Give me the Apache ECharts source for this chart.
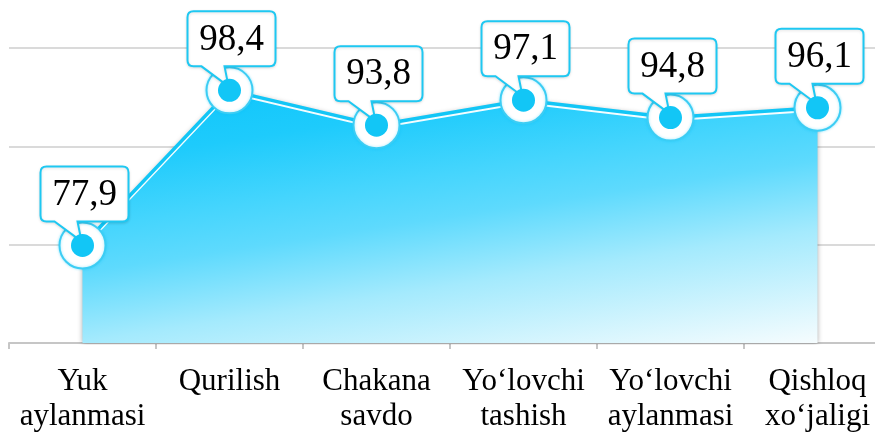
<!DOCTYPE html>
<html>
<head>
<meta charset="utf-8">
<script src="https://cdn.jsdelivr.net/npm/echarts@6/dist/echarts.min.js"></script>
<style>
  html, body { margin: 0; padding: 0; background: #fff; overflow: hidden; }
  #main { width: 900px; height: 434px; }
</style>
</head>
<body>
<div id="main"></div>
<script>
// categories and values
const categories = ['Yuk\naylanmasi', 'Qurilish', 'Chakana\nsavdo', 'Yo‘lovchi\ntashish', 'Yo‘lovchi\naylanmasi', 'Qishloq\nxo‘jaligi']
const values = [77.9, 98.4, 93.8, 97.1, 94.8, 96.1]
const yMin = 65
const yMax = 104
const yStep = 13

const CYAN = '#12c6f6'
const SERIF = '"Liberation Serif", "Times New Roman", serif'

const pointData = values.map((v, i) => [i, v])

// callout box with a tail pointing at the point
const renderCallout = (params, api) => {
    const p = api.coord([api.value(0), api.value(1)])
    const px = p[0], py = p[1]
    const w = 88, h = 55, r = 6
    const cx = px + 2
    const y1 = py - 24, y0 = y1 - h
    const x0 = cx - w / 2, x1 = cx + w / 2
    const d = 'M' + (x0 + r) + ',' + y0 +
        ' L' + (x1 - r) + ',' + y0 +
        ' Q' + x1 + ',' + y0 + ' ' + x1 + ',' + (y0 + r) +
        ' L' + x1 + ',' + (y1 - r) +
        ' Q' + x1 + ',' + y1 + ' ' + (x1 - r) + ',' + y1 +
        ' L' + (px - 5) + ',' + y1 +
        ' L' + (px - 1) + ',' + (py - 4) +
        ' L' + (px - 28) + ',' + y1 +
        ' L' + (x0 + r) + ',' + y1 +
        ' Q' + x0 + ',' + y1 + ' ' + x0 + ',' + (y1 - r) +
        ' L' + x0 + ',' + (y0 + r) +
        ' Q' + x0 + ',' + y0 + ' ' + (x0 + r) + ',' + y0 + ' Z'
    const label = String(api.value(1)).replace('.', ',')
    return {
        type: 'group',
        children: [
            {
                type: 'path',
                shape: {pathData: d},
                style: {fill: '#fff', stroke: '#1ec8f2', lineWidth: 2,
                    shadowColor: 'rgba(0,0,0,0.12)', shadowBlur: 3, shadowOffsetY: 1}
            },
            {
                type: 'text',
                x: cx,
                y: y0 + h / 2 + 1,
                style: {text: label, font: '37px ' + SERIF, fill: '#000',
                    align: 'center', verticalAlign: 'middle'}
            }
        ]
    }
}

const chart = echarts.init(document.getElementById('main'))
chart.setOption({
    animation: false,
    grid: {left: 9, width: 882, top: 48, bottom: 91},
    xAxis: {
        type: 'category',
        data: categories,
        boundaryGap: true,
        axisLine: {lineStyle: {color: '#c6c6c6', width: 2}},
        axisTick: {show: true, length: 6, lineStyle: {color: '#c6c6c6', width: 2}},
        axisLabel: {
            interval: 0,
            margin: 21,
            color: '#000',
            fontFamily: SERIF,
            fontSize: 31,
            lineHeight: 35
        }
    },
    yAxis: {
        type: 'value',
        min: yMin,
        max: yMax,
        interval: yStep,
        axisLabel: {show: false},
        axisLine: {show: false},
        axisTick: {show: false},
        splitLine: {lineStyle: {color: '#dadada', width: 2}}
    },
    series: [
        {
            type: 'line',
            data: values,
            showSymbol: false,
            z: 2,
            lineStyle: {color: CYAN, width: 3.5,
                shadowColor: 'rgba(255,255,255,0.95)', shadowOffsetY: 2, shadowBlur: 0},
            areaStyle: {
                // slightly tilted fade: bottom-right corner is the lightest
                color: new echarts.graphic.LinearGradient(0, 0, 0.074, 1.41, [
                    {offset: 0, color: '#0cc5fb'},
                    {offset: 0.2, color: '#1ecbfc'},
                    {offset: 0.38, color: '#45d5fd'},
                    {offset: 0.5, color: '#5edafd'},
                    {offset: 0.69, color: '#a4eafd'},
                    {offset: 1, color: '#f5fcfe'}
                ]),
                opacity: 1,
                shadowColor: 'rgba(0,0,0,0.35)',
                shadowBlur: 5
            }
        },
        {
            type: 'scatter',
            data: pointData,
            symbol: 'circle',
            symbolSize: 46,
            z: 3,
            itemStyle: {color: '#fff', opacity: 1, borderColor: '#3ccdf4', borderWidth: 2,
                shadowColor: 'rgba(20,198,245,0.4)', shadowBlur: 3}
        },
        {
            type: 'custom',
            data: pointData,
            z: 4,
            renderItem: renderCallout
        },
        {
            type: 'scatter',
            data: pointData,
            symbol: 'circle',
            symbolSize: 23,
            z: 5,
            itemStyle: {color: CYAN, opacity: 1}
        }
    ]
})
</script>
</body>
</html>
